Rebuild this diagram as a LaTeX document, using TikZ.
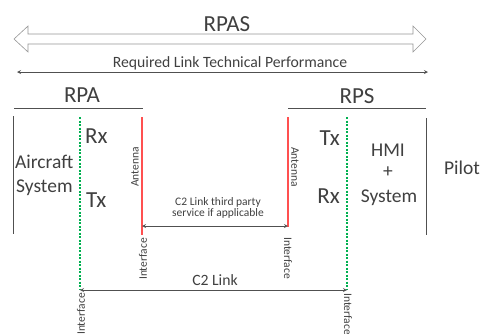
\documentclass[tikz,border=0pt]{standalone}
\usepackage{fontspec}
\setmainfont{Carlito}
\usetikzlibrary{positioning}
\definecolor{txtgray}{RGB}{64,64,64}
\definecolor{linegray}{RGB}{80,80,80}
\definecolor{antred}{RGB}{255,80,80}
\definecolor{ifgreen}{RGB}{0,176,80}

\begin{document}
\begin{tikzpicture}[x=1pt,y=-1pt]
	% Define styles
	\tikzstyle{headtext} = [text=txtgray, inner sep=0pt, font=\fontsize{23}{26}\selectfont]
	\tikzstyle{bodytext} = [text=txtgray, inner sep=0pt, font=\fontsize{19.5}{23}\selectfont]
	\tikzstyle{midtext} = [text=txtgray, inner sep=0pt, font=\fontsize{15.7}{18}\selectfont]
	\tikzstyle{tinytext} = [text=txtgray, inner sep=0pt, font=\fontsize{11.5}{13}\selectfont]
	\tikzstyle{bar} = [draw=linegray, line width=1pt]
	\tikzstyle{antline} = [draw=antred, line width=1.3pt]
	\tikzstyle{ifline} = [draw=ifgreen, line width=1.5pt, dash pattern=on 2pt off 1.5pt]
	\tikzstyle{arrow} = [draw=linegray, line width=0.8pt, <->, >=stealth]
	
	% Page frame
	\useasboundingbox (0,0) rectangle (482,333);
	
	% Headings
	\node [headtext, anchor=base] (rpas) at (227,31) {RPAS};
	\node [midtext, anchor=base] (rltp) at (230,67) {Required Link Technical Performance};
	\node [headtext, anchor=base] (rpa) at (82,102) {RPA};
	\node [headtext, anchor=base] (rps) at (357,103) {RPS};
	
	% Hollow RPAS arrow
	\draw [draw=linegray!60, fill=white, line width=0.6pt] (14,39) -- (28,26) -- (28,34) -- (413,34) -- (413,26)
		-- (426,39) -- (413,52) -- (413,44) -- (28,44) -- (28,52) -- cycle;
	
	% End points of lines
	\coordinate (rltpL) at (17,72);
	\coordinate (rltpR) at (428,72);
	\coordinate (rpaL) at (14,108);
	\coordinate (rpaR) at (143,108);
	\coordinate (rpsL) at (288,108);
	\coordinate (rpsR) at (426,108);
	\coordinate (acTop) at (13,116);
	\coordinate (acBot) at (13,234);
	\coordinate (ifaTop) at (80,117);
	\coordinate (ifaBot) at (80,290);
	\coordinate (antaTop) at (142,117);
	\coordinate (antaBot) at (142,235);
	\coordinate (antsTop) at (288,117);
	\coordinate (antsBot) at (288,227);
	\coordinate (ifsTop) at (347,117);
	\coordinate (ifsBot) at (347,290);
	\coordinate (hmiTop) at (426,118);
	\coordinate (hmiBot) at (426,235);
	\coordinate (thirdL) at (142,226);
	\coordinate (thirdR) at (288,226);
	
	% Place nodes
	\node [bodytext, anchor=base west] (aircraft) at (15,168) {Aircraft};
	\node [bodytext, anchor=base west] (acsystem) at (16,192) {System};
	\node [headtext, anchor=base west] (rxa) at (85,143) {Rx};
	\node [headtext, anchor=base west] (txa) at (86,207) {Tx};
	\node [headtext, anchor=base east] (txs) at (340,145) {Tx};
	\node [headtext, anchor=base east] (rxs) at (340,203) {Rx};
	\node [bodytext, anchor=base] (hmi) at (388,156) {HMI};
	\node [bodytext] (plus) at (388,172) {+};
	\node [bodytext, anchor=base] (hmisystem) at (389,202) {System};
	\node [bodytext, anchor=base] (pilot) at (462,174) {Pilot};
	\node [tinytext, rotate=90] (anta) at (135,167) {Antenna};
	\node [tinytext, rotate=-90] (ants) at (295,167) {Antenna};
	\node [tinytext, rotate=90, anchor=east] (ifaLbl) at (143,238) {Interface};
	\node [tinytext, rotate=-90, anchor=west] (ifsLbl) at (288,237) {Interface};
	\node [tinytext, rotate=90, anchor=east] (ifaLow) at (81,293) {Interface};
	\node [tinytext, rotate=-90, anchor=west] (ifsLow) at (348,293) {Interface};
	\node [tinytext, anchor=base] (third1) at (218,205) {C2 Link third party};
	\node [tinytext, anchor=base] (third2) at (218,216) {service if applicable};
	\node [midtext, anchor=base] (c2link) at (215,285) {C2 Link};
	
	% Draw lines
	\draw [bar] (rpaL) -- (rpaR);
	\draw [bar] (rpsL) -- (rpsR);
	\draw [bar] (acTop) -- (acBot);
	\draw [bar] (hmiTop) -- (hmiBot);
	\draw [antline] (antaTop) -- (antaBot);
	\draw [antline] (antsTop) -- (antsBot);
	\draw [ifline] (ifaTop) -- (ifaBot);
	\draw [ifline] (ifsTop) -- (ifsBot);
	
	% Draw arrows
	\draw [arrow] (rltpL) -- (rltpR);
	\draw [arrow] (thirdL) -- (thirdR);
	\draw [arrow] (ifaBot) -- (ifsBot);
\end{tikzpicture}
\end{document}
